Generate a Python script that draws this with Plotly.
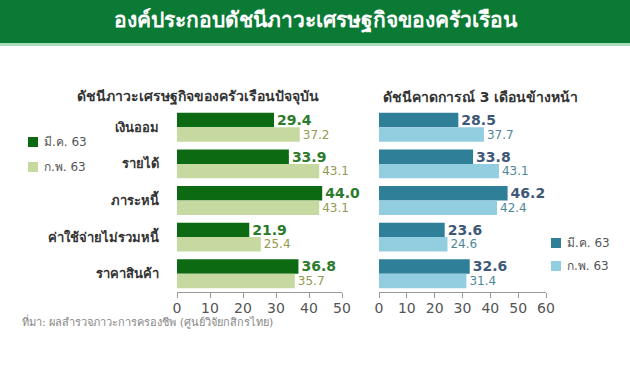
import plotly.graph_objects as go

W, H = 630, 368

categories = ["เงินออม", "รายได้", "ภาระหนี้", "ค่าใช้จ่ายไม่รวมหนี้", "ราคาสินค้า"]
series_names = ["มี.ค. 63", "ก.พ. 63"]
current_mar = [29.4, 33.9, 44.0, 21.9, 36.8]
current_feb = [37.2, 43.1, 43.1, 25.4, 35.7]
expect_mar = [28.5, 33.8, 46.2, 23.6, 32.6]
expect_feb = [37.7, 43.1, 42.4, 24.6, 31.4]
left_ticks = [0, 10, 20, 30, 40, 50]
right_ticks = [0, 10, 20, 30, 40, 50, 60]

title = "องค์ประกอบดัชนีภาวะเศรษฐกิจของครัวเรือน"
sub_left = "ดัชนีภาวะเศรษฐกิจของครัวเรือนปัจจุบัน"
sub_right = "ดัชนีคาดการณ์ 3 เดือนข้างหน้า"
source = "ที่มา: ผลสำรวจภาวะการครองชีพ (ศูนย์วิจัยกสิกรไทย)"

FONT = "Tahoma, 'DejaVu Sans', 'Liberation Sans', sans-serif"

L_DARK, L_LIGHT = "#0b6a12", "#c6d9a0"
R_DARK, R_LIGHT = "#2f7f99", "#93cde0"


def px(x):
    return x / W


def py(y):
    return 1 - y / H


fig = go.Figure()


def bar(vals, name, color, tcolor, tsize, bold, xa, ya):
    return go.Bar(
        y=categories, x=vals, orientation="h", name=name,
        marker=dict(color=color, line=dict(width=0)),
        text=[f"{v:.1f}" for v in vals], textposition="outside",
        outsidetextfont=dict(color=tcolor, size=tsize, family=FONT,
                             weight="bold" if bold else "normal"),
        constraintext="none", cliponaxis=False,
        xaxis=xa, yaxis=ya, showlegend=False,
        hoverinfo="skip",
    )


fig.add_trace(bar(current_mar, series_names[0], L_DARK, "#2c7a2c", 14, True, "x", "y"))
fig.add_trace(bar(current_feb, series_names[1], L_LIGHT, "#929a4e", 12, False, "x", "y"))
fig.add_trace(bar(expect_mar, series_names[0], R_DARK, "#3e5878", 14, True, "x2", "y2"))
fig.add_trace(bar(expect_feb, series_names[1], R_LIGHT, "#4d8799", 12, False, "x2", "y2"))

top, bottom = 109, 292
ydom = [py(bottom), py(top)]

axis_common = dict(
    showgrid=False, zeroline=False, showline=True, linecolor="#999999", linewidth=1,
    ticks="outside", ticklen=5, tickcolor="#999999", ticklabelstandoff=-2,
    tickfont=dict(size=14, color="#555555", family=FONT), fixedrange=True,
    automargin=False,
)

fig.update_layout(
    width=W, height=H, margin=dict(l=0, r=0, t=0, b=0, autoexpand=False),
    paper_bgcolor="white", plot_bgcolor="white",
    barmode="group", bargap=0.21, bargroupgap=0,
    font=dict(family=FONT),
    xaxis=dict(domain=[px(177), px(342)], range=[0, 50], tickvals=left_ticks,
               anchor="y", **axis_common),
    yaxis=dict(domain=ydom, autorange="reversed", anchor="x", showgrid=False,
               showline=False, ticks="", ticklabelstandoff=17, automargin=False,
               tickfont=dict(size=13, color="#333333", family=FONT, weight="bold"),
               fixedrange=True),
    xaxis2=dict(domain=[px(379), px(546)], range=[0, 60], tickvals=right_ticks,
                anchor="y2", **axis_common),
    yaxis2=dict(domain=ydom, autorange="reversed", anchor="x2", showgrid=False,
                showline=False, ticks="", showticklabels=False, automargin=False,
                fixedrange=True),
    showlegend=False,
)

# header bar
fig.add_shape(type="rect", xref="paper", yref="paper", x0=0, x1=1, y0=py(43), y1=1,
              fillcolor="#0a7a35", line=dict(width=0), layer="below")
fig.add_shape(type="rect", xref="paper", yref="paper", x0=0, x1=1, y0=py(46), y1=py(43),
              fillcolor="#a9dcb9", line=dict(width=0), layer="below")


# legends (symbol squares + labels)
def legend_item(x, y, color, label):
    fig.add_shape(type="rect", xref="paper", yref="paper",
                  x0=px(x), x1=px(x + 10), y0=py(y + 5), y1=py(y - 5),
                  fillcolor=color, line=dict(width=0))
    fig.add_annotation(text=label, x=px(x + 14), y=py(y), xref="paper", yref="paper",
                       showarrow=False, xanchor="left", yanchor="middle",
                       font=dict(size=12, color="#555555", family=FONT))


legend_item(28, 142, L_DARK, series_names[0])
legend_item(28, 167, L_LIGHT, series_names[1])
legend_item(551, 243, R_DARK, series_names[0])
legend_item(551, 266, R_LIGHT, series_names[1])

fig.add_annotation(text=title, x=px(316), y=py(21), xref="paper", yref="paper",
                   showarrow=False, xanchor="center", yanchor="middle",
                   font=dict(size=21, color="white", family=FONT, weight="bold"))
fig.add_annotation(text=sub_left, x=px(198), y=py(97), xref="paper", yref="paper",
                   showarrow=False, xanchor="center", yanchor="middle",
                   font=dict(size=14, color="#333333", family=FONT, weight="bold"))
fig.add_annotation(text=sub_right, x=px(381), y=py(97), xref="paper", yref="paper",
                   showarrow=False, xanchor="left", yanchor="middle",
                   font=dict(size=14, color="#333333", family=FONT, weight="bold"))
fig.add_annotation(text=source, x=px(20), y=py(321), xref="paper", yref="paper",
                   showarrow=False, xanchor="left", yanchor="middle",
                   font=dict(size=11, color="#888888", family=FONT))

fig.write_html(
    "out.html",
    config={"displayModeBar": False, "staticPlot": True},
    post_script=(
        "var s=document.createElement('style');"
        "s.textContent='html,body{margin:0;padding:0;overflow:hidden;scrollbar-width:none;}"
        "::-webkit-scrollbar{display:none;width:0;height:0;}';"
        "document.head.appendChild(s);"
    ),
)
